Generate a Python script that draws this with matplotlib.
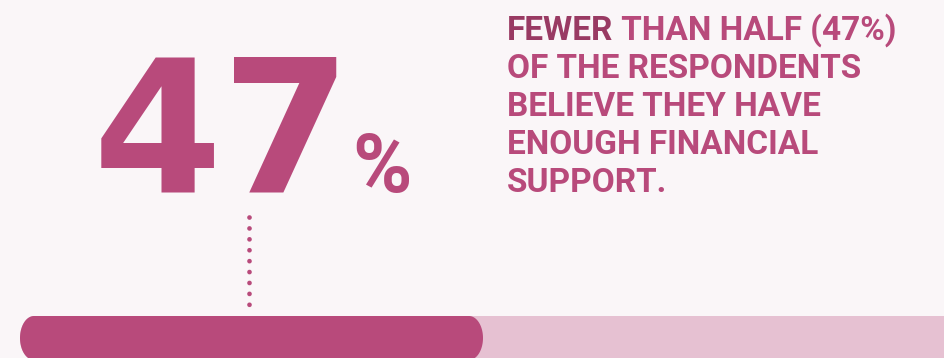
import numpy as np
import matplotlib
matplotlib.use("Agg")
import matplotlib.pyplot as plt
from matplotlib.patches import PathPatch
from matplotlib.path import Path

# values
share_value = 47          # share of respondents, percent
scale_max = 100           # full length of the track
big_number = "47"
big_unit = "%"
lead_word = "FEWER"
headline_lines = [
    " THAN HALF (47%)",
    "OF THE RESPONDENTS",
    "BELIEVE THEY HAVE",
    "ENOUGH FINANCIAL",
    "SUPPORT.",
]

BG = "#FAF6F8"
ACCENT = "#B84A7B"
TRACK = "#E6C1D2"
DARK = "#993A63"

W, H = 944, 358
fig = plt.figure(figsize=(W / 100, H / 100), dpi=100, facecolor=BG)
ax = fig.add_axes([0, 0, 1, 1])
ax.set_facecolor(BG)
ax.axis("off")

# x in percent units, y in pixel rows (top = 0)
px_per_unit = 463 / share_value
x0_px = 20
ax.set_xlim(-x0_px / px_per_unit, (W - x0_px) / px_per_unit)
ax.set_ylim(H, 0)


def pill_path(x, y, w, h, rx, ry, n=24):
    """Rectangle with elliptical rounded corners."""
    t = np.linspace(0, np.pi / 2, n)
    pts = []
    corners = [(x + w - rx, y + h - ry, 0.0),
               (x + rx, y + h - ry, np.pi / 2),
               (x + rx, y + ry, np.pi),
               (x + w - rx, y + ry, 1.5 * np.pi)]
    for cx, cy, a0 in corners:
        a = a0 + t
        pts += list(zip(cx + rx * np.cos(a), cy + ry * np.sin(a)))
    pts.append(pts[0])
    codes = [Path.MOVETO] + [Path.LINETO] * (len(pts) - 2) + [Path.CLOSEPOLY]
    return Path(pts, codes)


bar_center, bar_h = 338, 44
bars = ax.barh([bar_center, bar_center], [scale_max, share_value], height=bar_h,
               color=[TRACK, ACCENT])
rx = 14 / px_per_unit
ry = 22
for b in bars:
    p = PathPatch(pill_path(b.get_x(), b.get_y(), b.get_width(), b.get_height(), rx, ry),
                  facecolor=b.get_facecolor(), edgecolor="none")
    b.set_visible(False)
    ax.add_patch(p)

# dotted pointer from the number down to the bar
mid = (249 - x0_px) / px_per_unit
ax.plot([mid, mid], [217, 314], linestyle=(0, (0.01, 2.3)), color=ACCENT,
        linewidth=3.4, dash_capstyle="round")

# large figure
fig.text(93 / W, 1 - 192 / H, big_number, fontsize=134, fontweight="bold",
         family="DejaVu Sans", color=ACCENT, va="baseline", ha="left")
fig.text(352 / W, 1 - 192 / H, big_unit, fontsize=58, fontweight="bold",
         family="Roboto", color=ACCENT, va="baseline", ha="left")

# headline text
fs = 24
fam = "Roboto"
baselines = [40, 78, 116, 154, 192]
t0 = fig.text(507 / W, 1 - baselines[0] / H, lead_word, fontsize=fs,
              fontweight="bold", family=fam, color=DARK, va="baseline")
fig.canvas.draw()
bb = t0.get_window_extent()
fig.text(bb.x1 / W, 1 - baselines[0] / H, headline_lines[0], fontsize=fs,
         fontweight="bold", family=fam, color=ACCENT, va="baseline")
for line, y in zip(headline_lines[1:], baselines[1:]):
    fig.text(507 / W, 1 - y / H, line, fontsize=fs, fontweight="bold",
             family=fam, color=ACCENT, va="baseline")

fig.savefig("out.png", dpi=100, facecolor=BG)
